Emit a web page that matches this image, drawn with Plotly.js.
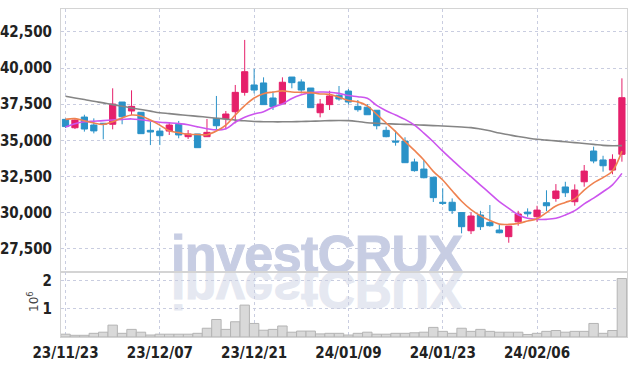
<!DOCTYPE html>
<html>
<head>
<meta charset="utf-8">
<script src="https://cdn.plot.ly/plotly-3.0.1.min.js"></script>
<style>html,body{margin:0;padding:0;background:#fff;}#chart{width:634px;height:366px;}</style>
</head>
<body>
<div id="chart"></div>
<script>
const dates = ['23/11/23','23/11/24','23/11/27','23/11/28','23/11/29','23/11/30','23/12/01','23/12/04','23/12/05','23/12/06',
'23/12/07','23/12/08','23/12/11','23/12/12','23/12/13','23/12/14','23/12/15','23/12/18','23/12/19','23/12/20',
'23/12/21','23/12/22','23/12/26','23/12/27','23/12/28','24/01/02','24/01/03','24/01/04','24/01/05','24/01/08',
'24/01/09','24/01/10','24/01/11','24/01/12','24/01/15','24/01/16','24/01/17','24/01/18','24/01/19','24/01/22',
'24/01/23','24/01/24','24/01/25','24/01/26','24/01/29','24/01/30','24/01/31','24/02/01','24/02/02','24/02/05',
'24/02/06','24/02/07','24/02/08','24/02/13','24/02/14','24/02/15','24/02/16','24/02/19','24/02/20','24/02/21'];

const open  = [36450,35870,36610,36060,36180,36110,37650,37030,36940,35690,
35640,35640,36110,35250,35440,35250,36520,36500,36980,38320,
38830,38970,37930,37530,39380,39040,38620,36910,37470,38120,
38410,37350,37290,37080,35690,34950,34950,33500,33010,32440,
30710,30710,30000,28740,29830,29320,28790,28330,29360,30030,
29710,30680,30980,31770,30750,32130,34260,33640,32940,34030];
const high  = [36500,36450,36770,36520,36200,38600,37650,38460,36960,36290,
35870,36250,36340,35710,35440,36480,38070,37030,38830,41950,
39940,39360,38370,39360,39380,39220,38620,37860,38430,38760,
38550,37790,37510,37080,35940,35670,35210,33730,33640,32440,
31680,30980,30000,30010,30120,30520,29140,29060,30120,30290,
30470,31540,31970,32130,31950,33290,34560,33930,34030,39290];
const low   = [35850,35780,35600,35480,35070,35760,36110,36750,35460,34670,
34670,35370,35140,35090,34490,35250,35710,35760,36180,38090,
38250,37470,37100,37530,38600,38250,37260,36590,37100,37740,
37470,36980,36770,35760,35210,34630,33450,32830,32370,30730,
30520,29900,28560,28510,28790,29020,28560,27910,29090,29710,
29360,30100,30750,31080,30470,31790,33410,32830,32650,33520];
const close = [35950,36400,35780,35650,36110,37510,36630,37350,35460,35575,
35320,36060,35370,35440,34490,35550,36010,36820,38320,39750,
38480,37470,37330,39020,38990,38480,37260,37510,38070,37860,
37650,37120,36770,36010,35250,34880,33450,32900,32410,31030,
30640,30130,29020,29760,29020,29090,28600,29060,29900,29910,
30170,30470,31490,31370,31560,32870,33570,33240,33680,37950];

const ma5 = [36450,36500,36360,36200,36100,36290,36550,36750,36680,36400,
36050,35660,35530,35410,35400,35390,35640,36050,36750,37400,
37930,38230,38340,38420,38340,38320,38300,38210,38180,37980,
37760,37660,37380,36800,36200,35600,34930,34300,33640,32850,
32250,31510,30780,30200,29770,29450,29200,29180,29250,29410,
29570,30000,30450,30700,30950,31550,32050,32420,32880,34250];
const ma20 = [35920,36150,36280,36320,36360,36410,36450,36480,36420,36340,
36250,36210,36160,36080,35930,35800,35720,35800,36250,36600,
36820,36980,37290,37510,37900,38150,38300,38340,38330,38250,
38100,38020,37910,37420,37050,36750,36450,36050,35500,34900,
34250,33650,33050,32480,31900,31330,30750,30290,29850,29600,
29530,29530,29600,29830,30130,30600,31000,31440,31920,32710];
const ma120 = [38050,37930,37820,37700,37590,37470,37360,37240,37130,37020,
36910,36850,36780,36720,36660,36600,36530,36470,36400,36350,
36300,36290,36280,36280,36290,36300,36320,36340,36360,36370,
36360,36300,36220,36180,36150,36120,36100,36080,36050,36020,
35990,35960,35920,35880,35780,35660,35500,35380,35260,35160,
35070,35010,34960,34900,34840,34780,34720,34650,34620,34630];

const volume = [100000,60000,60000,130000,170000,420000,130000,270000,170000,70000,
100000,100000,100000,100000,130000,310000,620000,270000,540000,1130000,
480000,240000,270000,390000,170000,210000,210000,110000,130000,130000,
70000,130000,170000,100000,100000,130000,130000,150000,170000,340000,
200000,130000,310000,200000,270000,200000,170000,170000,170000,90000,
130000,200000,230000,170000,200000,200000,480000,130000,230000,2070000];

const xTicks = ['23/11/23','23/12/07','23/12/21','24/01/09','24/01/23','24/02/06'];
const priceTicks = [27500,30000,32500,35000,37500,40000,42500];
const volTicks = [1000000,2000000];
const volTickText = ['1','2'];
const volScaleLabel = '10<sup>6</sup>';
const watermark = 'investCRUX';

const RED = '#e5206b', BLUE = '#2a92c8';
const tickFont = {family:'"Liberation Sans Narrow","DejaVu Sans Condensed",sans-serif', size:15, color:'#222', weight:'bold'};
const gridC = '#c9cde0';

const traces = [
  {type:'candlestick', x:dates, open:open, high:high, low:low, close:close, xaxis:'x', yaxis:'y',
   increasing:{line:{color:RED,width:1}, fillcolor:RED},
   decreasing:{line:{color:BLUE,width:1}, fillcolor:BLUE},
   whiskerwidth:0, hoverinfo:'skip', showlegend:false},
  {type:'scatter', mode:'lines', x:dates, y:ma120, xaxis:'x', yaxis:'y', line:{color:'#858585', width:1.6, shape:'spline'}, hoverinfo:'skip', showlegend:false},
  {type:'scatter', mode:'lines', x:dates, y:ma20, xaxis:'x', yaxis:'y', line:{color:'#cc55ee', width:1.6, shape:'spline'}, hoverinfo:'skip', showlegend:false},
  {type:'scatter', mode:'lines', x:dates, y:ma5, xaxis:'x', yaxis:'y', line:{color:'#ef8250', width:1.6, shape:'spline'}, hoverinfo:'skip', showlegend:false},
  {type:'bar', x:dates, y:volume, xaxis:'x2', yaxis:'y2', marker:{color:'#d9d9d9', line:{color:'#b4b4b4', width:1}}, hoverinfo:'skip', showlegend:false}
];

const svg = '<svg xmlns="http://www.w3.org/2000/svg" width="300" height="90" viewBox="0 0 300 90">' +
  '<text x="6" y="44" font-family="Liberation Sans, Arial, sans-serif" font-weight="bold" font-size="52" fill="#c7cde3" stroke="#c7cde3" stroke-width="1" letter-spacing="-0.6">' + watermark + '</text>' +
  '<g transform="translate(0,88) scale(1,-1)"><text x="6" y="44" font-family="Liberation Sans, Arial, sans-serif" font-weight="bold" font-size="52" fill="#e5e8f1" stroke="#e5e8f1" stroke-width="1" letter-spacing="-0.6">' + watermark + '</text></g>' +
  '</svg>';

const xCommon = {type:'category', categoryorder:'array', categoryarray:dates, range:[-0.48,59.54],
  tickmode:'array', tickvals:xTicks, ticktext:xTicks, showgrid:true, gridcolor:gridC, griddash:'dot', gridwidth:1,
  zeroline:false, showline:true, linecolor:'#d4d4d4', mirror:true, fixedrange:true, rangeslider:{visible:false}};

const layout = {
  width:634, height:366,
  margin:{l:61, r:7, t:9, b:29},
  paper_bgcolor:'#ffffff', plot_bgcolor:'rgba(0,0,0,0)',
  showlegend:false, hovermode:false,
  bargap:0, boxgap:0.12, boxgroupgap:0.25,
  xaxis:Object.assign({}, xCommon, {anchor:'y', showticklabels:false, domain:[0,1]}),
  xaxis2:Object.assign({}, xCommon, {anchor:'y2', matches:'x', showticklabels:true, tickfont:tickFont, ticklabelstandoff:2}),
  yaxis:{domain:[0.198,1], range:[25880,44090], tickmode:'array', tickvals:priceTicks, tickformat:',d',
    tickfont:tickFont, showgrid:true, gridcolor:gridC, griddash:'dot', zeroline:false,
    showline:true, linecolor:'#d4d4d4', mirror:true, ticklabelstandoff:5, fixedrange:true},
  yaxis2:{domain:[0,0.198], range:[0,2300000], tickmode:'array', tickvals:volTicks, ticktext:volTickText,
    tickfont:tickFont, showgrid:true, gridcolor:gridC, griddash:'dot', zeroline:false,
    showline:true, linecolor:'#d4d4d4', mirror:true, ticklabelstandoff:5, fixedrange:true},
  annotations:[{text:volScaleLabel, xref:'paper', yref:'paper', x:(33-61)/566, y:(337-302)/328,
    xanchor:'center', yanchor:'middle', textangle:-90, showarrow:false,
    font:{family:'"DejaVu Sans", sans-serif', size:12, color:'#444'}}],
  images:[{source:'data:image/svg+xml;charset=utf-8,' + encodeURIComponent(svg),
    xref:'paper', yref:'paper', x:(165-61)/566, y:(337-228)/328, sizex:300/566, sizey:90/328,
    xanchor:'left', yanchor:'top', sizing:'stretch', layer:'below', opacity:1}]
};

Plotly.newPlot('chart', traces, layout, {staticPlot:true, displayModeBar:false});
</script>
</body>
</html>
